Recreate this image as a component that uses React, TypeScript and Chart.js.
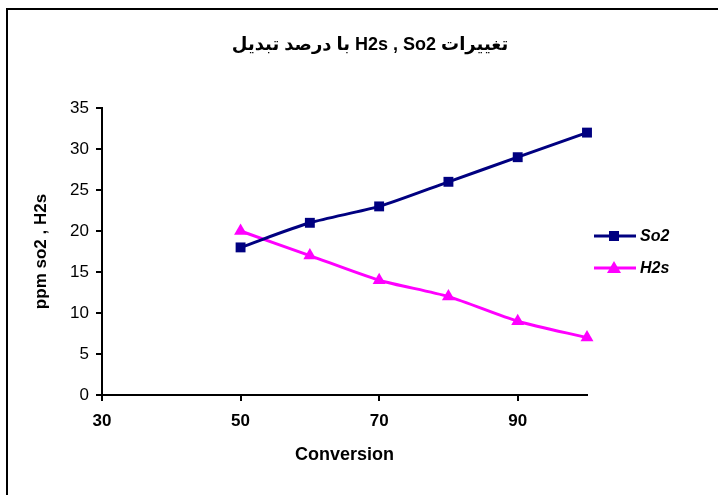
import React, { useEffect, useRef } from "react";
import { Chart, registerables } from "chart.js";

Chart.register(...registerables);

const conversion = [50, 60, 70, 80, 90, 100];
const so2Values = [18, 21, 23, 26, 29, 32];
const h2sValues = [20, 17, 14, 12, 9, 7];
const xTickValues = [30, 50, 70, 90];
const seriesNames = ["So2", "H2s"];
const titleText = "تغییرات H2s , So2 با درصد تبدیل";
const xTitle = "Conversion";
const yTitle = "ppm so2 , H2s";

const FONT = "Arial, 'Liberation Sans', 'DejaVu Sans', sans-serif";
const NAVY = "#000080";
const MAGENTA = "#FF00FF";

const overlayPlugin = {
  id: "overlay",
  afterDraw(chart: any) {
    const ctx = chart.ctx;
    const area = chart.chartArea;
    ctx.save();
    // title (right-to-left paragraph)
    ctx.fillStyle = "#000";
    ctx.font = `bold 18px ${FONT}`;
    ctx.direction = "rtl";
    ctx.textAlign = "center";
    ctx.textBaseline = "middle";
    ctx.fillText(titleText, 370, 45);
    ctx.direction = "ltr";

    // legend
    const lx = area.right + 7;
    const ys = [236, 268];
    chart.data.datasets.forEach((ds: any, i: number) => {
      const y = ys[i];
      ctx.strokeStyle = ds.borderColor;
      ctx.lineWidth = 3;
      ctx.beginPath();
      ctx.moveTo(lx, y);
      ctx.lineTo(lx + 42, y);
      ctx.stroke();
      ctx.fillStyle = ds.backgroundColor;
      const cx = lx + 20;
      if (ds.pointStyle === "rect") {
        ctx.fillRect(cx - 5, y - 5, 10, 10);
      } else {
        ctx.beginPath();
        ctx.moveTo(cx, y - 7);
        ctx.lineTo(cx + 7, y + 5);
        ctx.lineTo(cx - 7, y + 5);
        ctx.closePath();
        ctx.fill();
      }
      ctx.fillStyle = "#000";
      ctx.font = `italic bold 16px ${FONT}`;
      ctx.textAlign = "left";
      ctx.textBaseline = "middle";
      ctx.fillText(ds.label, lx + 46, y + 1);
    });
    ctx.restore();
  },
};

export default function App() {
  const ref = useRef<HTMLCanvasElement>(null);
  useEffect(() => {
    if (!ref.current) return;
    const chart = new Chart(ref.current, {
      type: "line",
      data: {
        datasets: [
          {
            label: seriesNames[0],
            data: conversion.map((x, i) => ({ x, y: so2Values[i] })),
            borderColor: NAVY,
            backgroundColor: NAVY,
            borderWidth: 3,
            pointStyle: "rect",
            pointRadius: 7,
            pointBorderWidth: 0,
            tension: 0.25,
            clip: false as any,
          },
          {
            label: seriesNames[1],
            data: conversion.map((x, i) => ({ x, y: h2sValues[i] })),
            borderColor: MAGENTA,
            backgroundColor: MAGENTA,
            borderWidth: 3,
            pointStyle: "triangle",
            pointRadius: 7.5,
            pointBorderWidth: 0,
            tension: 0.25,
            clip: false as any,
          },
        ],
      },
      options: {
        animation: false,
        responsive: false,
        devicePixelRatio: 1,
        layout: { padding: { left: 0, right: 131, top: 108, bottom: 0 } },
        plugins: {
          legend: { display: false },
          title: { display: false },
          tooltip: { enabled: false },
        },
        scales: {
          x: {
            type: "linear",
            min: 30,
            max: 100,
            afterBuildTicks: (s: any) => {
              s.ticks = xTickValues.map((v) => ({ value: v }));
            },
            afterFit: (s: any) => {
              s.height = 100;
            },
            ticks: {
              color: "#000",
              font: { family: FONT, size: 17, weight: "bold" },
              padding: 10,
              maxRotation: 0,
            },
            grid: {
              drawOnChartArea: false,
              drawTicks: true,
              tickLength: 6,
              color: "#000",
              lineWidth: 2,
            },
            border: { display: true, color: "#000", width: 2 },
            title: {
              display: true,
              text: xTitle,
              color: "#000",
              font: { family: FONT, size: 18, weight: "bold" },
              padding: { top: 0, bottom: 29 },
            },
          },
          y: {
            min: 0,
            max: 35,
            afterFit: (s: any) => {
              s.width = 102;
            },
            ticks: {
              stepSize: 5,
              color: "#000",
              font: { family: FONT, size: 17 },
              padding: 7,
            },
            grid: {
              drawOnChartArea: false,
              drawTicks: true,
              tickLength: 6,
              color: "#000",
              lineWidth: 2,
            },
            border: { display: true, color: "#000", width: 2 },
            title: {
              display: true,
              text: yTitle,
              color: "#000",
              font: { family: FONT, size: 17, weight: "bold" },
              padding: { top: 31, bottom: 0 },
            },
          },
        },
      },
      plugins: [overlayPlugin],
    });
    return () => chart.destroy();
  }, []);

  return (
    <div>
      <canvas
        ref={ref}
        width={718}
        height={495}
        style={{ position: "fixed", left: 0, top: 0, width: 718, height: 495 }}
      />
      <div
        style={{
          position: "fixed",
          left: 6,
          top: 8,
          width: 1000,
          height: 1000,
          borderTop: "2px solid #000",
          borderLeft: "2px solid #000",
          pointerEvents: "none",
        }}
      />
    </div>
  );
}
